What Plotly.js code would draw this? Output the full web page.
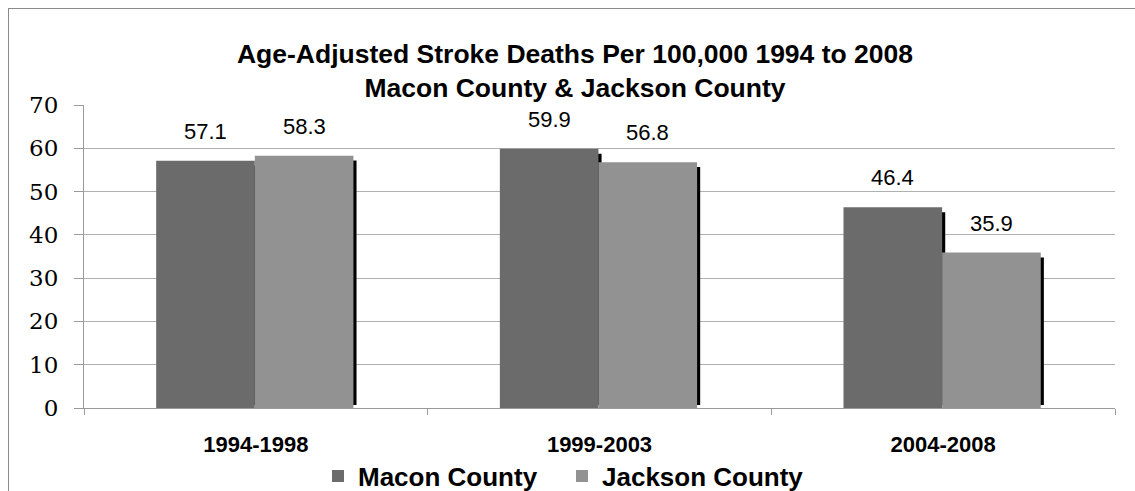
<!DOCTYPE html>
<html>
<head>
<meta charset="utf-8">
<script src="https://cdn.plot.ly/plotly-3.0.1.min.js"></script>
<style>
html,body{margin:0;padding:0;background:#fff;}
#chart{width:1135px;height:491px;position:absolute;left:0;top:0;}
#frame{position:absolute;left:8px;top:8px;width:1200px;height:600px;border-left:1px solid #8a8a8a;border-top:1px solid #8a8a8a;pointer-events:none;}
</style>
</head>
<body>
<div id="chart"></div>
<div id="frame"></div>
<script>
const categories = ["1994-1998", "1999-2003", "2004-2008"];
const maconValues = [57.1, 59.9, 46.4];
const jacksonValues = [58.3, 56.8, 35.9];
const seriesNames = ["Macon County", "Jackson County"];
const titleLines = ["Age-Adjusted Stroke Deaths Per 100,000 1994 to 2008", "Macon County & Jackson County"];

const maconColor = "#6b6b6b";
const jacksonColor = "#929292";
const barWidth = 0.287;
const maconOffset = -0.29;
const jacksonOffset = -0.003;
const shadowDx = 0.009;
const shadowBase = 0.7;
const shadowTopDrop = 1.15;

const sans = 'Liberation Sans, Arial, sans-serif';
const serif = 'DejaVu Serif, Liberation Serif, serif';

function shadowTrace(vals, off) {
  return {
    type: "bar", x: categories, y: vals.map(v => v - shadowTopDrop - shadowBase),
    base: vals.map(() => shadowBase),
    width: barWidth, offset: off + shadowDx,
    marker: {color: "#000000", line: {width: 0}},
    showlegend: false, hoverinfo: "skip"
  };
}

const traces = [
  shadowTrace(maconValues, maconOffset),
  shadowTrace(jacksonValues, jacksonOffset),
  {type: "bar", name: seriesNames[0], x: categories, y: maconValues, width: barWidth, offset: maconOffset,
   marker: {color: maconColor, line: {width: 0}}},
  {type: "bar", name: seriesNames[1], x: categories, y: jacksonValues, width: barWidth, offset: jacksonOffset,
   marker: {color: jacksonColor, line: {width: 0}}}
];

const annotations = [];
categories.forEach((c, i) => {
  annotations.push({x: i + maconOffset + barWidth / 2, y: maconValues[i], xref: "x", yref: "y",
    text: maconValues[i].toFixed(1), showarrow: false, yanchor: "bottom", yshift: 15,
    font: {family: sans, size: 22, color: "#000"}});
  annotations.push({x: i + jacksonOffset + barWidth / 2, y: jacksonValues[i], xref: "x", yref: "y",
    text: jacksonValues[i].toFixed(1), showarrow: false, yanchor: "bottom", yshift: 15,
    font: {family: sans, size: 22, color: "#000"}});
});

const layout = {
  width: 1135, height: 491,
  margin: {l: 84, r: 20, t: 105, b: 83},
  paper_bgcolor: "#ffffff", plot_bgcolor: "#ffffff",
  barmode: "overlay",
  title: {text: titleLines.join("<br>"), x: 575 / 1135, xanchor: "center", xref: "container",
          y: 1 - 63 / 491, yanchor: "top", yref: "container",
          font: {family: sans, size: 26.5, color: "#000", weight: "bold"}},
  xaxis: {type: "category", range: [-0.5, 2.5], showline: true, linecolor: "#9a9a9a", linewidth: 1,
          ticks: "outside", tickson: "boundaries", ticklen: 6, tickcolor: "#9a9a9a",
          showgrid: false, ticklabelstandoff: 17,
          tickfont: {family: sans, size: 22, color: "#000", weight: "bold"}},
  yaxis: {range: [0, 70], dtick: 10, showline: true, linecolor: "#9a9a9a", linewidth: 1,
          ticks: "outside", ticklen: 9, tickcolor: "#9a9a9a", ticklabelstandoff: 11,
          showgrid: true, gridcolor: "#b0b0b0", gridwidth: 1, zeroline: false,
          tickfont: {family: serif, size: 23, color: "#000"}},
  legend: {orientation: "h", x: 562 / 1135, xanchor: "center", xref: "container",
           y: 1 - 476 / 491, yanchor: "middle", yref: "container",
           bgcolor: "rgba(0,0,0,0)",
           font: {family: sans, size: 26, color: "#000", weight: "bold"},
           itemwidth: 30, entrywidth: 199, traceorder: "normal"},
  annotations: annotations,
  showlegend: true
};

Plotly.newPlot("chart", traces, layout, {displayModeBar: false, staticPlot: true});
</script>
</body>
</html>
